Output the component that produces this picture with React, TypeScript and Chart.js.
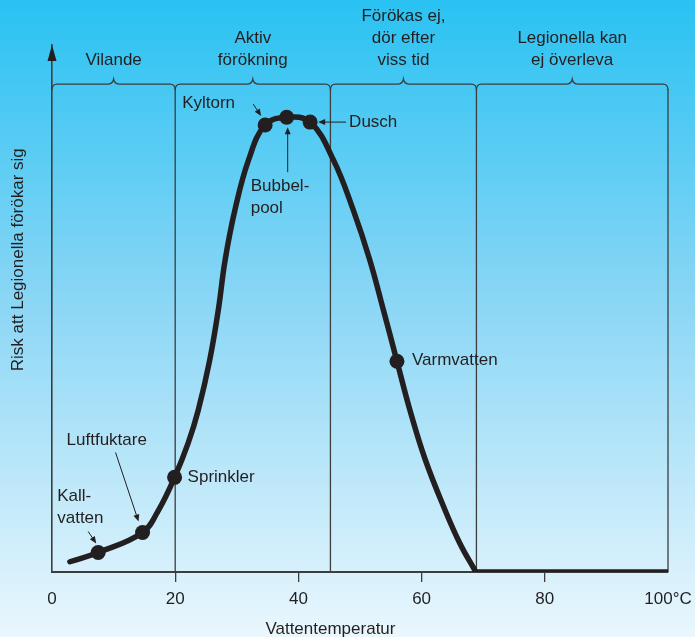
import React, { useEffect, useRef } from "react";
import { Chart, registerables } from "chart.js";
Chart.register(...registerables);

// ---- data ----
const curveX = [2.9, 7.5, 14.7, 17.3, 19.9, 22.1, 23.75, 25.6, 27.0, 28.1, 29.7, 31.9, 34.6, 38.1, 41.9, 45.7, 48.9, 51.6, 53.8, 56.0, 58.1, 60.6, 63.8, 66.2, 68.8];
const curveY = [2.1, 4.0, 8.1, 12.7, 19.4, 26.4, 33.2, 43.4, 53.7, 63.9, 74.2, 84.4, 91.6, 93.2, 92.2, 84.4, 74.2, 63.9, 53.7, 43.2, 33.2, 23.0, 12.7, 5.9, 0];
const flatX = [68.8, 100];
const flatY = [0, 0];
const pointNames = ["Kallvatten", "Luftfuktare", "Sprinkler", "Kyltorn", "Bubbelpool", "Dusch", "Varmvatten"];
const pointX = [7.5, 14.7, 19.9, 34.6, 38.1, 41.9, 56.0];
const pointY = [4.0, 8.1, 19.4, 91.6, 93.2, 92.2, 43.2];
const xTicks = [0, 20, 40, 60, 80, 100];
const xTickLabels = ["0", "20", "40", "60", "80", "100°C"];
const zoneBounds = [0, 20, 45.2, 68.9, 100];
const zoneLabels = [["Vilande"], ["Aktiv", "förökning"], ["Förökas ej,", "dör efter", "viss tid"], ["Legionella kan", "ej överleva"]];
const zoneTop = 100;
const xTitle = "Vattentemperatur";
const yTitle = "Risk att Legionella förökar sig";

// annotation label lines per point
const pointLabels = [["Kall-", "vatten"], ["Luftfuktare"], ["Sprinkler"], ["Kyltorn"], ["Bubbel-", "pool"], ["Dusch"], ["Varmvatten"]];
// offsets (px) from point: label left/middle, arrow from->to
const labelOffsets = [
  { dx: -41, dy: -56, arrow: [-10, -21, -2, -9] },
  { dx: -76, dy: -92, arrow: [-27, -80, -4, -11] },
  { dx: 13, dy: 0, arrow: null },
  { dx: -83, dy: -22, arrow: [-12, -21, -4, -9] },
  { dx: -36, dy: 69, arrow: [1, 55, 1, 10] },
  { dx: 39, dy: 0, arrow: [36, 0, 8, 0] },
  { dx: 15, dy: -1, arrow: null },
];

const INK = "#231f20";
const LINE = "#3d3d3d";
const FONT = '"Liberation Sans", Arial, sans-serif';

function drawArrow(ctx: CanvasRenderingContext2D, x1: number, y1: number, x2: number, y2: number) {
  const ang = Math.atan2(y2 - y1, x2 - x1);
  const hl = 7, hw = 3;
  ctx.save();
  ctx.strokeStyle = INK;
  ctx.fillStyle = INK;
  ctx.lineWidth = 1;
  ctx.beginPath();
  ctx.moveTo(x1, y1);
  ctx.lineTo(x2 - Math.cos(ang) * hl * 0.8, y2 - Math.sin(ang) * hl * 0.8);
  ctx.stroke();
  ctx.beginPath();
  ctx.moveTo(x2, y2);
  ctx.lineTo(x2 - Math.cos(ang) * hl - Math.sin(ang) * hw, y2 - Math.sin(ang) * hl + Math.cos(ang) * hw);
  ctx.lineTo(x2 - Math.cos(ang) * hl + Math.sin(ang) * hw, y2 - Math.sin(ang) * hl - Math.cos(ang) * hw);
  ctx.closePath();
  ctx.fill();
  ctx.restore();
}

const decorPlugin = {
  id: "decor",
  beforeDraw(chart: any) {
    const { ctx, width, height } = chart;
    const g = ctx.createLinearGradient(0, 0, 0, height);
    g.addColorStop(0, "#29c2f2");
    g.addColorStop(0.45, "#86d5f5");
    g.addColorStop(1, "#eaf7fd");
    ctx.save();
    ctx.fillStyle = g;
    ctx.fillRect(0, 0, width, height);
    ctx.restore();
  },
  beforeDatasetsDraw(chart: any) {
    const { ctx, scales } = chart;
    const xs = scales.x, ys = scales.y;
    const top = ys.getPixelForValue(zoneTop);
    const bottom = ys.getPixelForValue(0);
    const r = 5;
    ctx.save();
    ctx.strokeStyle = LINE;
    ctx.lineWidth = 1.3;
    zoneBounds.slice(1).forEach((b) => {
      const px = xs.getPixelForValue(b);
      ctx.beginPath();
      ctx.moveTo(px, bottom);
      ctx.lineTo(px, top + r);
      ctx.stroke();
    });
    for (let i = 0; i < zoneBounds.length - 1; i++) {
      const a = xs.getPixelForValue(zoneBounds[i]);
      const b = xs.getPixelForValue(zoneBounds[i + 1]);
      const m = (a + b) / 2;
      ctx.beginPath();
      ctx.moveTo(a, top + r + 1);
      ctx.quadraticCurveTo(a, top, a + r, top);
      ctx.lineTo(m - 6, top);
      ctx.quadraticCurveTo(m - 1, top, m, top - 5);
      ctx.quadraticCurveTo(m + 1, top, m + 6, top);
      ctx.lineTo(b - r, top);
      ctx.quadraticCurveTo(b, top, b, top + r + 1);
      ctx.stroke();
    }
    ctx.restore();
  },
  afterDatasetsDraw(chart: any) {
    const { ctx, scales, chartArea } = chart;
    const xs = scales.x, ys = scales.y;
    ctx.save();
    const ax = xs.getPixelForValue(0);
    const at = chartArea.top;
    ctx.fillStyle = INK;
    ctx.beginPath();
    ctx.moveTo(ax, at);
    ctx.lineTo(ax - 4.5, at + 16);
    ctx.lineTo(ax + 4.5, at + 16);
    ctx.closePath();
    ctx.fill();

    ctx.font = `17px ${FONT}`;
    ctx.fillStyle = INK;
    ctx.textBaseline = "middle";
    const top = ys.getPixelForValue(zoneTop);
    ctx.textAlign = "center";
    zoneLabels.forEach((lines, i) => {
      const m = (xs.getPixelForValue(zoneBounds[i]) + xs.getPixelForValue(zoneBounds[i + 1])) / 2;
      const n = lines.length;
      lines.forEach((t, j) => {
        ctx.fillText(t, m, top - 24 - (n - 1 - j) * 22);
      });
    });
    ctx.textAlign = "left";
    pointNames.forEach((_, i) => {
      const px = xs.getPixelForValue(pointX[i]);
      const py = ys.getPixelForValue(pointY[i]);
      const o = labelOffsets[i];
      pointLabels[i].forEach((t, j) => {
        ctx.fillText(t, px + o.dx, py + o.dy + j * 22);
      });
      if (o.arrow) {
        drawArrow(ctx, px + o.arrow[0], py + o.arrow[1], px + o.arrow[2], py + o.arrow[3]);
      }
    });
    ctx.textAlign = "center";
    ctx.fillText(xTitle, xs.getPixelForValue(45.2), chartArea.bottom + 57);
    ctx.translate(18, ys.getPixelForValue(64));
    ctx.rotate(-Math.PI / 2);
    ctx.fillText(yTitle, 0, 0);
    ctx.restore();
  },
};

export default function App() {
  const ref = useRef<HTMLCanvasElement | null>(null);
  useEffect(() => {
    document.body.style.margin = "0";
    if (!ref.current) return;
    const chart = new Chart(ref.current, {
      type: "scatter",
      data: {
        datasets: [
          {
            type: "line",
            data: curveX.map((x, i) => ({ x, y: curveY[i] })),
            borderColor: INK,
            borderWidth: 5.5,
            pointRadius: 0,
            tension: 0.4,
            fill: false,
            borderCapStyle: "round",
            borderJoinStyle: "round",
          } as any,
          {
            type: "line",
            data: flatX.map((x, i) => ({ x, y: flatY[i] })),
            borderColor: INK,
            borderWidth: 5.5,
            pointRadius: 0,
            tension: 0,
            fill: false,
          } as any,
          {
            type: "scatter",
            data: pointX.map((x, i) => ({ x, y: pointY[i] })),
            backgroundColor: INK,
            borderWidth: 0,
            pointRadius: 7.5,
          } as any,
        ],
      },
      options: {
        animation: false,
        responsive: true,
        maintainAspectRatio: false,
        layout: { padding: { top: 45, right: 27, left: 0, bottom: 0 } },
        plugins: { legend: { display: false }, tooltip: { enabled: false } },
        scales: {
          x: {
            type: "linear",
            min: 0,
            max: 100,
            afterBuildTicks: (s: any) => {
              s.ticks = xTicks.map((v) => ({ value: v }));
            },
            ticks: {
              callback: (v: any) => xTickLabels[xTicks.indexOf(Number(v))] ?? String(v),
              font: { family: FONT, size: 17 },
              color: INK,
              padding: 7,
              maxRotation: 0,
              autoSkip: false,
            },
            grid: {
              drawOnChartArea: false,
              drawTicks: true,
              tickLength: 10,
              lineWidth: 1.3,
              color: (c: any) => (c.tick && c.tick.value > 0 && c.tick.value < 100 ? LINE : "rgba(0,0,0,0)"),
            },
            border: { display: true, color: LINE, width: 2 },
            afterFit: (s: any) => {
              s.height = 65;
              s.paddingLeft = 0;
              s.paddingRight = 0;
            },
          },
          y: {
            type: "linear",
            min: 0,
            max: 108,
            ticks: { display: false },
            grid: { display: true, drawOnChartArea: false, drawTicks: false },
            border: { display: true, color: LINE, width: 1.6 },
            afterFit: (s: any) => {
              s.width = 52;
              s.paddingTop = 0;
              s.paddingBottom = 0;
            },
          },
        },
      } as any,
      plugins: [decorPlugin],
    });
    return () => chart.destroy();
  }, []);
  return (
    <div style={{ position: "relative", width: 695, height: 637 }}>
      <canvas ref={ref} />
    </div>
  );
}
